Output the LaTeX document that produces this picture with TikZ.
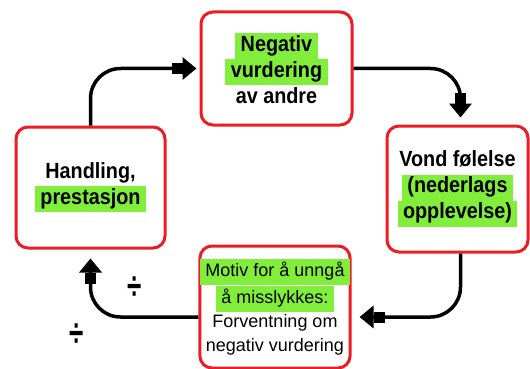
\documentclass[tikz,border=0pt]{standalone}
\usepackage{fontspec}
\setmainfont{Liberation Sans}
\newfontfamily\condfont{Liberation Sans}[FakeStretch=0.9]
\usetikzlibrary{arrows.meta,positioning}
\definecolor{boxred}{RGB}{237,28,36}
\definecolor{hlgreen}{RGB}{128,238,58}
\newcommand{\hlt}[1]{{\setlength{\fboxsep}{1.5pt}\colorbox{hlgreen}{\rule[-6.5pt]{0pt}{23pt}\hspace{4pt}#1\hspace{4pt}}}}

\begin{document}
\begin{tikzpicture}[
  x=1pt,y=-1pt,
  card/.style={draw=boxred,line width=3pt,rounded corners=12pt,align=center,inner sep=0pt},
  big/.style={font=\condfont\fontsize{22}{26}\selectfont\bfseries},
  small/.style={font=\fontsize{18}{24}\selectfont},
  arrow/.style={line width=3.5pt,rounded corners=30pt,
    -{Rectangle[length=11pt,width=11pt,sep=0pt]Triangle[length=14pt,width=22pt,sep=0pt]}},
  sign/.style={font=\fontsize{26}{28}\selectfont\bfseries}
]
\useasboundingbox (0,0) rectangle (530,369);

\node[card,big,minimum width=151pt,minimum height=113pt] (neg) at (276.5,68.5)
  {\hlt{Negativ}\\\hlt{vurdering}\\av andre};
\node[card,big,minimum width=141pt,minimum height=126pt] (vond) at (457.5,189)
  {Vond følelse\\\hlt{(nederlags}\\\hlt{opplevelse)}};
\node[card,small,minimum width=146pt,minimum height=122pt] (motiv) at (275,307)
  {\hlt{Motiv for å unngå}\\\hlt{å misslykkes:}\\Forventning om\\negativ vurdering};
\node[card,big,minimum width=149pt,minimum height=121pt] (handling) at (90.5,187.5)
  {Handling,\\\hlt{prestasjon}};

\draw[arrow,shorten >=3pt] (handling.north) |- (neg.west);
\draw[arrow,shorten >=7pt] (neg.east) -| ([xshift=3pt]vond.north);
\draw[arrow,shorten >=8pt] ([xshift=3pt]vond.south) |- ([yshift=-10pt]motiv.east);
\draw[arrow,shorten >=9pt] ([yshift=-10pt]motiv.west) -| (handling.south);

\node[sign] (div1) at (135,288) {\scalebox{1}[1.5]{÷}};
\node[sign] (div2) at (77,335) {\scalebox{1}[1.5]{÷}};
\end{tikzpicture}
\end{document}
